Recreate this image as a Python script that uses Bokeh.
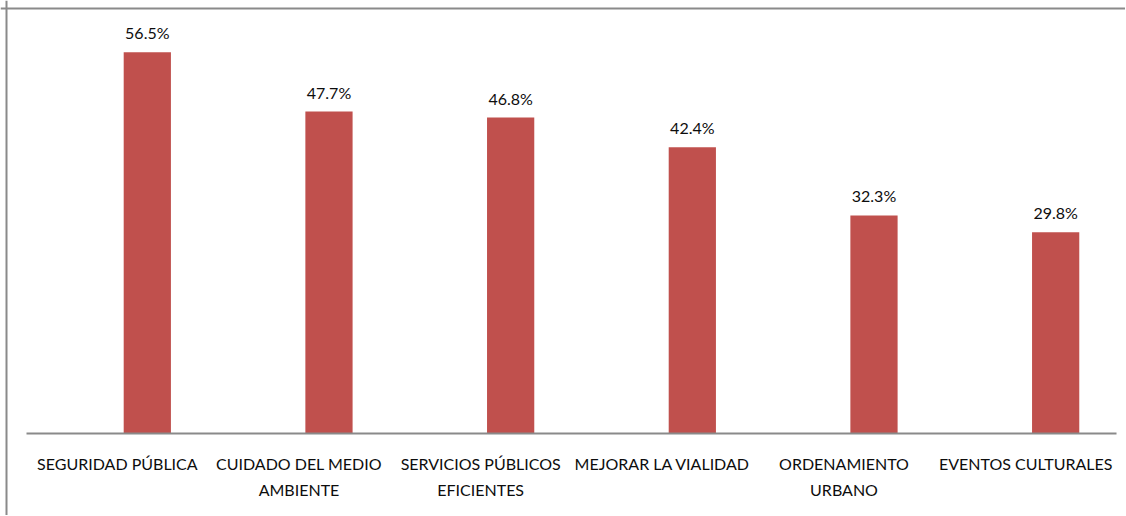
from bokeh.plotting import figure
from bokeh.models import ColumnDataSource, FactorRange, Range1d, Span
from bokeh.transform import dodge
from bokeh.core.properties import value
from bokeh.embed import file_html
from bokeh.resources import INLINE

categories = ["SEGURIDAD PÚBLICA", "CUIDADO DEL MEDIO\nAMBIENTE", "SERVICIOS PÚBLICOS\nEFICIENTES",
              "MEJORAR LA VIALIDAD", "ORDENAMIENTO\nURBANO", "EVENTOS CULTURALES"]
values = [56.5, 47.7, 46.8, 42.4, 32.3, 29.8]
value_labels = ["56.5%", "47.7%", "46.8%", "42.4%", "32.3%", "29.8%"]

FONT = "Lato"
TEXT_COLOR = "#0d0d0d"
BAR_COLOR = "#C0504D"
LINE_COLOR = "#8a8a8a"

src = ColumnDataSource(dict(cat=categories, val=values, lab=value_labels,
                            zero=[0] * len(values)))

W, H = 1125, 515
band_px = 181.67      # width of one category band
left_px = 26          # left end of the category axis
pad = (W / band_px - len(categories)) / 2
shift = left_px / band_px - pad
ppu = 6.75            # pixels per percent
base_px = 433         # baseline position from top

p = figure(width=W, height=H, output_backend="svg", toolbar_location=None,
           x_range=FactorRange(*categories, range_padding=pad, range_padding_units="absolute"),
           y_range=Range1d(-(H - base_px) / ppu, base_px / ppu),
           x_axis_location=None, y_axis_location=None,
           min_border=0, min_border_left=0, min_border_right=0,
           min_border_top=0, min_border_bottom=0)
p.outline_line_color = None
p.xgrid.visible = False
p.ygrid.visible = False
p.background_fill_color = "white"
p.border_fill_color = "white"

bar_off = 0.165 + shift

p.vbar(x=dodge("cat", bar_off, range=p.x_range), top="val", bottom=0, width=0.26,
       source=src, fill_color=BAR_COLOR, line_color=None)

p.text(x=dodge("cat", bar_off, range=p.x_range), y="val", text="lab", source=src,
       text_font=value(FONT), text_font_size="16px", text_color=TEXT_COLOR,
       text_align="center", text_baseline="bottom", y_offset=-10)

# baseline (category axis line)
base = ColumnDataSource(dict(x0=[categories[0]], x1=[categories[-1]], y=[0]))
p.segment(x0=dodge("x0", -0.5 + shift, range=p.x_range), x1=dodge("x1", 0.5 + shift, range=p.x_range),
          y0="y", y1="y", source=base, line_color=LINE_COLOR, line_width=2)

# category labels
p.text(x=dodge("cat", shift, range=p.x_range), y="zero", text="cat", source=src,
       text_font=value(FONT), text_font_size="16px", text_color=TEXT_COLOR,
       text_align="center", text_baseline="top", y_offset=20, text_line_height=1.375)

# chart border (top and left)
p.add_layout(Span(location=(base_px - 8) / ppu, dimension="width", line_color=LINE_COLOR, line_width=2))
p.add_layout(Span(location=-pad + 6 / band_px, dimension="height", line_color=LINE_COLOR, line_width=2))

open("out.html", "w").write(file_html(p, INLINE))
